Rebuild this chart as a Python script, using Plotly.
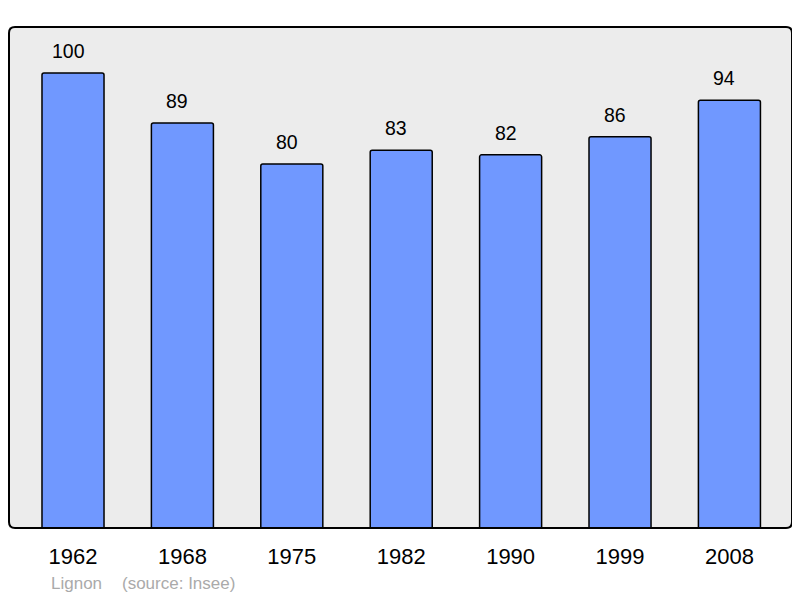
import plotly.graph_objects as go

years = ["1962", "1968", "1975", "1982", "1990", "1999", "2008"]
population = [100, 89, 80, 83, 82, 86, 94]

# page has an 8px body margin, so the figure is drawn 8px smaller and shifted
W, H = 792, 590
ML, MT = 1, 19
PR, PB = 784, 520
MR, MB = W - PR, H - PB
PW, PH = PR - ML, PB - MT
FONT = "Liberation Sans, Arial, sans-serif"

fig = go.Figure()
fig.add_trace(go.Bar(
    x=years, y=population, width=0.567,
    marker=dict(color="#7098ff", line=dict(color="#000000", width=1.5), cornerradius=2),
    hoverinfo="skip",
))

for i, v in enumerate(population):
    fig.add_annotation(x=i, y=v, text=str(v), showarrow=False, yanchor="bottom",
                       yshift=9, xshift=-5, font=dict(size=19.5, color="#000000", family=FONT))

# rounded border of the plot area
r = 6
rx, ry = r / PW, r / PH
path = (f"M {rx} 0 L {1-rx} 0 Q 1 0 1 {ry} L 1 {1-ry} Q 1 1 {1-rx} 1 "
        f"L {rx} 1 Q 0 1 0 {1-ry} L 0 {ry} Q 0 0 {rx} 0 Z")
fig.add_shape(type="path", xref="paper", yref="paper", path=path,
              line=dict(color="#000000", width=2), layer="above")

fy = -(575 - PB) / PH
fig.add_annotation(xref="paper", yref="paper", x=(41 - ML) / PW, y=fy,
                   xanchor="left", yanchor="middle", text="Lignon", showarrow=False,
                   font=dict(size=17, color="#aaaaaa", family=FONT))
fig.add_annotation(xref="paper", yref="paper", x=(112 - ML) / PW, y=fy,
                   xanchor="left", yanchor="middle", text="(source: Insee)", showarrow=False,
                   font=dict(size=17, color="#aaaaaa", family=FONT))

fig.update_layout(
    width=W, height=H,
    margin=dict(l=ML, r=MR, t=MT, b=MB, pad=0),
    paper_bgcolor="#ffffff", plot_bgcolor="#ececec",
    showlegend=False,
    font=dict(family=FONT, color="#000000"),
    xaxis=dict(type="category", range=[-0.585, 6.572], showgrid=False, zeroline=False,
               ticks="outside", ticklen=9, tickcolor="rgba(0,0,0,0)",
               tickfont=dict(size=22, color="#000000"), fixedrange=True),
    yaxis=dict(range=[0, 110.1], showgrid=False, zeroline=False, showticklabels=False,
               fixedrange=True),
)

fig.write_html("out.html")
